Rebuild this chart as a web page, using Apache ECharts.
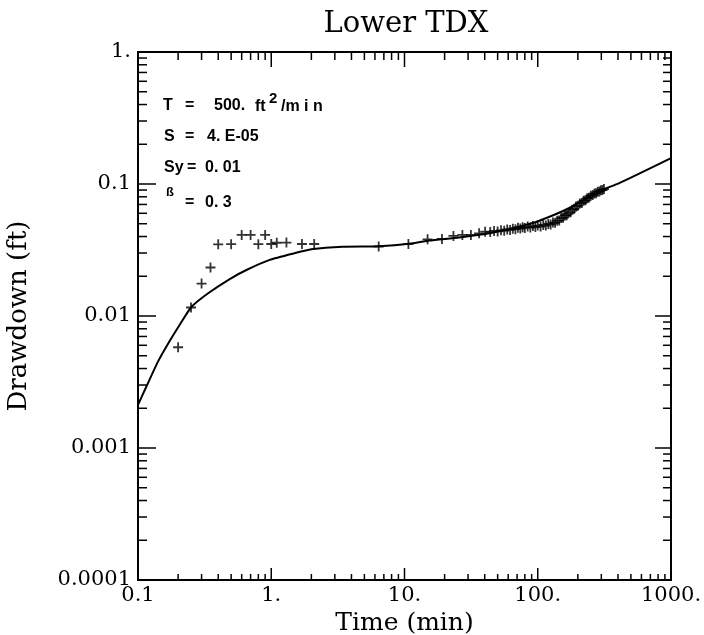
<!DOCTYPE html>
<html>
<head>
<meta charset="utf-8">
<script src="https://cdn.jsdelivr.net/npm/echarts@6/dist/echarts.min.js"></script>
<style>
  html, body { margin: 0; padding: 0; background: #ffffff; }
  #chart { width: 704px; height: 635px; }
</style>
</head>
<body>
<div id="chart"></div>
<script>
// Axis decades and their printed labels
const timeTicks = [0.1, 1, 10, 100, 1000];
const timeTickLabels = ['0.1', '1.', '10.', '100.', '1000.'];
const drawdownTicks = [0.0001, 0.001, 0.01, 0.1, 1];
const drawdownTickLabels = ['0.0001', '0.001', '0.01', '0.1', '1.'];

// Intermediate (2..9) tick positions inside each decade
const timeMinorTicks = [0.2, 0.3, 0.4, 0.5, 0.6, 0.7, 0.8, 0.9,
  2, 3, 4, 5, 6, 7, 8, 9, 20, 30, 40, 50, 60, 70, 80, 90,
  200, 300, 400, 500, 600, 700, 800, 900];
const drawdownMinorTicks = [0.0002, 0.0003, 0.0004, 0.0005, 0.0006, 0.0007, 0.0008, 0.0009,
  0.002, 0.003, 0.004, 0.005, 0.006, 0.007, 0.008, 0.009,
  0.02, 0.03, 0.04, 0.05, 0.06, 0.07, 0.08, 0.09,
  0.2, 0.3, 0.4, 0.5, 0.6, 0.7, 0.8, 0.9];

// Observed drawdown (ft) vs time (min)
const obsTime = [
  0.2, 0.25, 0.3, 0.35, 0.4, 0.5, 0.6, 0.7, 0.8, 0.9, 1.0, 1.1, 1.3, 1.7, 2.1,
  6.4, 10.7, 14.9, 19.1, 23.3, 27.2, 31.5, 36.3, 40.3,
  44, 47, 50, 53, 56, 59, 62, 65, 68, 71, 74, 77, 80, 84, 88, 92, 96, 100,
  105, 110, 115, 120, 125, 130, 135, 140, 145, 150, 155, 160, 165, 170,
  176, 182, 188, 194, 200, 207, 214, 221, 228, 235, 242, 250, 258, 266,
  274, 282, 290, 298, 306, 314
];
const obsDrawdown = [
  0.0058, 0.0116, 0.0176, 0.0233, 0.0349, 0.0350, 0.0411, 0.0411, 0.0350, 0.0411, 0.0351, 0.0359, 0.0360, 0.0351, 0.0351,
  0.0336, 0.0351, 0.0381, 0.0383, 0.0404, 0.0411, 0.0411, 0.0423, 0.0435,
  0.0432, 0.0441, 0.0437, 0.0446, 0.0443, 0.0452, 0.0449, 0.0458, 0.0455, 0.0466, 0.0460, 0.0470, 0.0465, 0.0476, 0.0468, 0.0480, 0.0472, 0.0484,
  0.0476, 0.0490, 0.0484, 0.0498, 0.0494, 0.0510, 0.0508, 0.0526, 0.0530, 0.0552, 0.0556, 0.0578, 0.0580, 0.0600,
  0.0612, 0.0638, 0.0648, 0.0676, 0.0684, 0.0712, 0.0718, 0.0746, 0.0752, 0.0781, 0.0788, 0.0815, 0.0824, 0.0846,
  0.0852, 0.0872, 0.0878, 0.0896, 0.0900, 0.0915
];

// Fitted type curve
const modelTime = [
  0.1, 0.1154, 0.1412, 0.1677, 0.2063, 0.2516, 0.336, 0.488, 0.651, 0.973,
  1.496, 2.0, 3.42, 6.48, 10.86, 15.33, 25.7, 45.4, 90.5, 132, 171, 303, 405, 1000
];
const modelDrawdown = [
  0.00212, 0.00291, 0.00451, 0.00614, 0.00862, 0.0117, 0.01486, 0.01906, 0.0223, 0.0266,
  0.0299, 0.0320, 0.0335, 0.0338, 0.0352, 0.0373, 0.0394, 0.0428, 0.0504, 0.0582, 0.0655, 0.0901, 0.101, 0.157
];

const X_MIN = timeTicks[0], X_MAX = timeTicks[timeTicks.length - 1];
const Y_MIN = drawdownTicks[0], Y_MAX = drawdownTicks[drawdownTicks.length - 1];

function labelFor(ticks, labels) {
  return function (v) {
    for (let i = 0; i < ticks.length; i++) {
      if (Math.abs(Math.log10(v) - Math.log10(ticks[i])) < 1e-6) return labels[i];
    }
    return '';
  };
}

const serifFont = '"DejaVu Serif", "Liberation Serif", serif';
const sansFont = '"Liberation Sans", Arial, sans-serif';

// Tick marks drawn inward on all four sides of the frame
const xTickData = timeTicks.slice(1, -1).map(v => [v, Y_MIN, 1])
  .concat(timeMinorTicks.map(v => [v, Y_MIN, 0]));
const yTickData = drawdownTicks.slice(1, -1).map(v => [X_MIN, v, 1])
  .concat(drawdownMinorTicks.map(v => [X_MIN, v, 0]));

const tickStyle = { stroke: '#000', lineWidth: 1.5 };

function renderXTick(params, api) {
  const v = api.value(0);
  const major = api.value(2) === 1;
  const b = api.coord([v, Y_MIN]);
  const t = api.coord([v, Y_MAX]);
  const lb = major ? 12 : 6;
  const lt = major ? 15 : 8;
  return {
    type: 'group',
    children: [
      { type: 'line', shape: { x1: b[0], y1: b[1], x2: b[0], y2: b[1] - lb }, style: tickStyle },
      { type: 'line', shape: { x1: t[0], y1: t[1], x2: t[0], y2: t[1] + lt }, style: tickStyle }
    ]
  };
}

function renderYTick(params, api) {
  const v = api.value(1);
  const major = api.value(2) === 1;
  const l = api.coord([X_MIN, v]);
  const r = api.coord([X_MAX, v]);
  const ll = major ? 18 : 9;
  const lr = major ? 16 : 8;
  return {
    type: 'group',
    children: [
      { type: 'line', shape: { x1: l[0], y1: l[1], x2: l[0] + ll, y2: l[1] }, style: tickStyle },
      { type: 'line', shape: { x1: r[0], y1: r[1], x2: r[0] - lr, y2: r[1] }, style: tickStyle }
    ]
  };
}

// Fitted-parameter annotation
function annoText(text, x, y, size) {
  return {
    type: 'text', x: x, y: y, z: 10,
    style: {
      text: text, fill: '#000',
      font: 'bold ' + (size || 16) + 'px ' + sansFont,
      textAlign: 'left', textVerticalAlign: 'middle'
    }
  };
}

// Plus-shaped marker for observations
const plus = 'path://M4.1,0H5.9V4.1H10V5.9H5.9V10H4.1V5.9H0V4.1H4.1Z';

const chart = echarts.init(document.getElementById('chart'), null, { renderer: 'canvas' });

chart.setOption({
  backgroundColor: '#ffffff',
  animation: false,
  title: {
    text: 'Lower TDX',
    left: 401, top: 5,
    textAlign: 'center',
    textStyle: { fontFamily: serifFont, fontSize: 29, fontWeight: 'normal', color: '#000' }
  },
  grid: {
    left: 138, right: 33, top: 52, bottom: 55,
    containLabel: false, outerBoundsMode: 'none',
    show: true, borderColor: '#000', borderWidth: 2, backgroundColor: 'transparent'
  },
  xAxis: {
    type: 'log', logBase: 10, min: X_MIN, max: X_MAX,
    name: 'Time (min)', nameLocation: 'middle', nameGap: 26,
    nameTextStyle: { fontFamily: serifFont, fontSize: 25, color: '#000' },
    axisLine: { show: false },
    axisTick: { show: false },
    splitLine: { show: false },
    minorTick: { show: false },
    axisLabel: {
      formatter: labelFor(timeTicks, timeTickLabels),
      fontFamily: serifFont, fontSize: 21, color: '#000', margin: 5,
      showMinLabel: true, showMaxLabel: true
    }
  },
  yAxis: {
    type: 'log', logBase: 10, min: Y_MIN, max: Y_MAX,
    name: 'Drawdown (ft)', nameLocation: 'middle', nameGap: 106, nameRotate: 90,
    nameTextStyle: { fontFamily: serifFont, fontSize: 26, color: '#000' },
    axisLine: { show: false },
    axisTick: { show: false },
    splitLine: { show: false },
    minorTick: { show: false },
    axisLabel: {
      formatter: labelFor(drawdownTicks, drawdownTickLabels),
      fontFamily: serifFont, fontSize: 21, color: '#000', margin: 7,
      showMinLabel: true, showMaxLabel: true
    }
  },
  graphic: [
    annoText('T', 163, 106),
    annoText('=', 185, 106),
    annoText('500.', 214, 106),
    annoText('ft', 255, 107),
    annoText('2', 269, 99, 15),
    annoText('/m i n', 281, 107),
    annoText('S', 164, 137),
    annoText('=', 185, 137),
    annoText('4. E-05', 207, 137),
    annoText('Sy', 164, 168),
    annoText('=', 187, 168),
    annoText('0. 01', 205, 168),
    annoText('\u00DF', 166, 192, 13),
    annoText('=', 185, 203),
    annoText('0. 3', 205, 203)
  ],
  series: [
    {
      name: 'ticks-x', type: 'custom', data: xTickData, encode: { x: 0, y: 1 },
      renderItem: renderXTick, clip: false, silent: true, z: 5
    },
    {
      name: 'ticks-y', type: 'custom', data: yTickData, encode: { x: 0, y: 1 },
      renderItem: renderYTick, clip: false, silent: true, z: 5
    },
    {
      name: 'Type curve', type: 'line',
      data: modelTime.map((t, i) => [t, modelDrawdown[i]]),
      showSymbol: false, smooth: 0.2,
      lineStyle: { color: '#000', width: 2 },
      z: 3
    },
    {
      name: 'Observed', type: 'scatter',
      data: obsTime.map((t, i) => [t, obsDrawdown[i]]),
      symbol: plus, symbolSize: 10,
      itemStyle: { color: '#000' },
      z: 4
    }
  ]
});
</script>
</body>
</html>
